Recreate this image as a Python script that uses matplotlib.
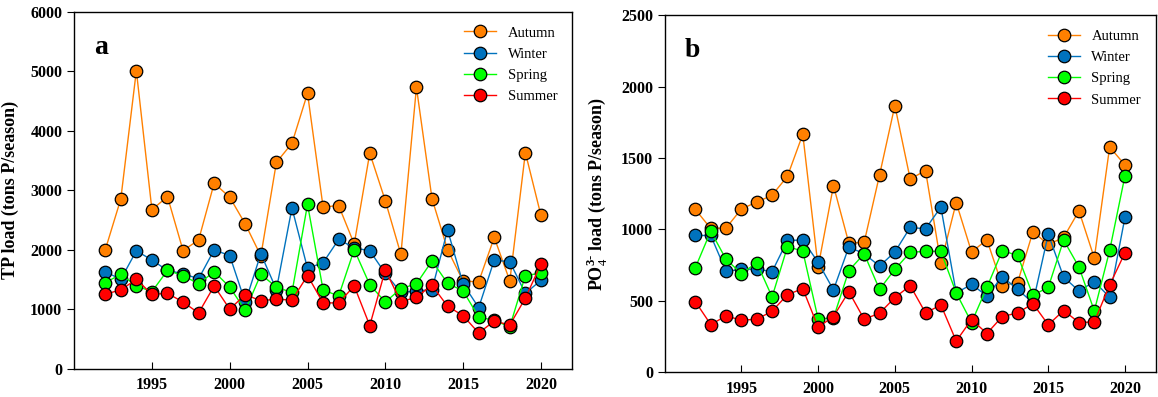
import numpy as np
import matplotlib
matplotlib.use('Agg')
import matplotlib.pyplot as plt

plt.rcParams['font.family'] = ['Liberation Serif', 'DejaVu Serif']
plt.rcParams['mathtext.fontset'] = 'custom'
plt.rcParams['mathtext.rm'] = 'Liberation Serif'
plt.rcParams['mathtext.bf'] = 'Liberation Serif:bold'

## DATA
years = list(range(1992, 2021))
seasons = ['Autumn', 'Winter', 'Spring', 'Summer']
colors = ['#FF8000', '#0072BD', '#00FF00', '#FF0000']

# TP load (tons P/season)
tp_autumn = [2000, 2855, 5010, 2675, 2895, 1990, 2165, 3120, 2885, 2435, 1900, 3470, 3790,
             4630, 2720, 2745, 2100, 3625, 2825, 1925, 4730, 2860, 2005, 1475, 1465, 2210,
             1480, 3635, 2580]
tp_winter = [1635, 1505, 1985, 1830, 1655, 1600, 1515, 2000, 1905, 1120, 1935, 1335, 2705,
             1690, 1785, 2175, 2035, 1985, 1605, 1285, 1310, 1335, 2335, 1430, 1030, 1830,
             1800, 1270, 1490]
tp_spring = [1450, 1590, 1395, 1300, 1655, 1570, 1430, 1635, 1375, 985, 1590, 1375, 1285,
             2765, 1330, 1225, 2005, 1415, 1125, 1350, 1430, 1815, 1440, 1310, 875, 815,
             710, 1570, 1610]
tp_summer = [1255, 1330, 1505, 1255, 1270, 1125, 940, 1395, 1005, 1250, 1145, 1175, 1155,
             1570, 1110, 1110, 1395, 730, 1665, 1125, 1210, 1405, 1055, 895, 605, 805,
             740, 1190, 1765]

# PO4 load (tons P/season)
po4_autumn = [1140, 1007, 1010, 1144, 1191, 1240, 1372, 1666, 737, 1307, 905, 909, 1380,
              1867, 1353, 1412, 763, 1188, 842, 928, 607, 628, 984, 895, 944, 1130, 800,
              1577, 1451]
po4_winter = [958, 958, 707, 721, 723, 705, 923, 926, 770, 577, 877, 830, 744, 842, 1014,
              1005, 1156, 556, 616, 535, 670, 581, 486, 967, 667, 570, 635, 526, 1086]
po4_spring = [733, 988, 791, 691, 767, 528, 879, 849, 374, 381, 712, 830, 581, 721, 840,
              847, 847, 556, 349, 595, 851, 819, 540, 595, 926, 737, 430, 853, 1377]
po4_summer = [495, 335, 395, 365, 372, 428, 544, 586, 316, 391, 565, 372, 414, 523, 607,
              416, 472, 219, 370, 272, 391, 416, 481, 333, 433, 349, 353, 612, 837]

tp = [tp_autumn, tp_winter, tp_spring, tp_summer]
po4 = [po4_autumn, po4_winter, po4_spring, po4_summer]


def draw_panel(ax, series, ymax, ystep, ylabel, letter):
    for vals, name, c in zip(series, seasons, colors):
        ax.plot(years, vals, '-o', color=c, lw=1.0, ms=9, mfc=c, mec='k',
                mew=0.9, label=name)
    ax.set_xlim(1990, 2022)
    ax.set_ylim(0, ymax)
    ax.set_xticks([1995, 2000, 2005, 2010, 2015, 2020])
    ax.set_yticks(np.arange(0, ymax + 1, ystep))
    ax.tick_params(axis='x', direction='in', length=5, labelsize=11.5, pad=6)
    ax.tick_params(axis='y', direction='out', length=5, labelsize=11.5)
    for lab in ax.get_xticklabels() + ax.get_yticklabels():
        lab.set_fontweight('bold')
    for sp in ax.spines.values():
        sp.set_linewidth(1.0)
    ax.set_ylabel(ylabel, fontsize=13, fontweight='bold', labelpad=8)
    ax.text(0.04, 0.90, letter, transform=ax.transAxes, fontsize=20,
            fontweight='bold', va='center')
    ax.legend(loc='upper right', frameon=False, fontsize=10.5,
              handlelength=2.2, labelspacing=0.55, borderaxespad=0.6)


fig = plt.figure(figsize=(11.58, 3.97), dpi=100)
ax1 = fig.add_axes([0.064, 0.0705, 0.430, 0.900])
ax2 = fig.add_axes([0.574, 0.062, 0.424, 0.900])

draw_panel(ax1, tp, 6000, 1000, 'TP load (tons P/season)', 'a')
draw_panel(ax2, po4, 2500, 500, r'PO$_4^{\mathbf{3\text{-}}}$ load (tons P/season)', 'b')

plt.savefig('out.png', dpi=100)
plt.close()
